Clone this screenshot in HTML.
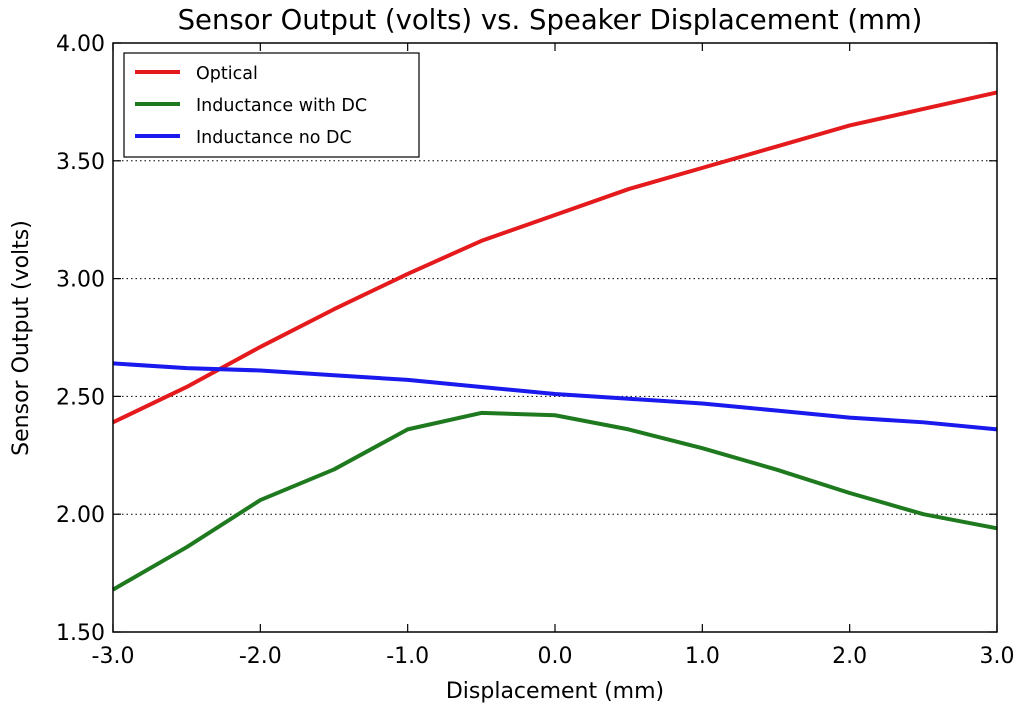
<!DOCTYPE html>
<html><head><meta charset="utf-8"><style>
body{margin:0;background:#fff;}
svg text{font-family:"DejaVu Sans","Liberation Sans",sans-serif;fill:#000;}
</style></head><body>
<svg width="1024" height="712" xmlns="http://www.w3.org/2000/svg">
<g id="grid"></g>
<g id="series"></g>
<rect x="113" y="43" width="884" height="589" fill="none" stroke="#000" stroke-width="1.5"/>
<g id="axes"></g>
<text x="550" y="29" font-size="27.5" text-anchor="middle">Sensor Output (volts) vs. Speaker Displacement (mm)</text>
<text x="555" y="698" font-size="22" text-anchor="middle">Displacement (mm)</text>
<text x="0" y="0" font-size="22" text-anchor="middle" transform="translate(28,338) rotate(-90)">Sensor Output (volts)</text>
<g>
<rect x="124" y="53" width="295" height="104" fill="#fff" stroke="#000" stroke-width="1.2"/>
<line x1="135" y1="72" x2="180" y2="72" stroke="#e41a1c" stroke-width="4"/>
<text x="196" y="79" font-size="17.5">Optical</text>
<line x1="135" y1="104" x2="180" y2="104" stroke="#1f7a1f" stroke-width="4"/>
<text x="196" y="111" font-size="17.5">Inductance with DC</text>
<line x1="135" y1="136" x2="180" y2="136" stroke="#1a1aee" stroke-width="4"/>
<text x="196" y="143" font-size="17.5">Inductance no DC</text>
</g>
</svg>
<script>
const xs=[-3,-2.5,-2,-1.5,-1,-0.5,0,0.5,1,1.5,2,2.5,3];
const optical=[2.39,2.54,2.71,2.87,3.02,3.16,3.27,3.38,3.47,3.56,3.65,3.72,3.79];
const inductanceDC=[1.68,1.86,2.06,2.19,2.36,2.43,2.42,2.36,2.28,2.19,2.09,2.00,1.94];
const inductanceNoDC=[2.64,2.62,2.61,2.59,2.57,2.54,2.51,2.49,2.47,2.44,2.41,2.39,2.36];
const xTicks=[-3,-2,-1,0,1,2,3];
const xTickLabels=["-3.0","-2.0","-1.0","0.0","1.0","2.0","3.0"];
const yTicks=[1.5,2,2.5,3,3.5,4];
const yTickLabels=["1.50","2.00","2.50","3.00","3.50","4.00"];
const X=v=>113+(v+3)/6*884, Y=v=>632-(v-1.5)/2.5*589;
const NS="http://www.w3.org/2000/svg";
function mk(t,a,p){const e=document.createElementNS(NS,t);for(const k in a)e.setAttribute(k,a[k]);p.appendChild(e);return e;}
const grid=document.getElementById('grid'),axes=document.getElementById('axes'),ser=document.getElementById('series');
yTicks.forEach((v,i)=>{
 if(v>1.5&&v<4){const g=mk('line',{x1:113,x2:997,y1:Y(v),y2:Y(v),stroke:'#000','stroke-width':1,'stroke-dasharray':'1.5,3'},grid);
 }
 const t=mk('line',{x1:113,x2:121,y1:Y(v),y2:Y(v),stroke:'#000','stroke-width':1.2},axes);
 
 const t2=mk('line',{x1:989,x2:997,y1:Y(v),y2:Y(v),stroke:'#000','stroke-width':1.2},axes);
 
 const l=mk('text',{x:105,y:Y(v)+8,'font-size':22,'text-anchor':'end'},axes);l.textContent=yTickLabels[i];
 
});
xTicks.forEach((v,i)=>{
 const t=mk('line',{x1:X(v),x2:X(v),y1:624,y2:632,stroke:'#000','stroke-width':1.2},axes);
 
 const t2=mk('line',{x1:X(v),x2:X(v),y1:43,y2:51,stroke:'#000','stroke-width':1.2},axes);
 
 const l=mk('text',{x:X(v),y:663,'font-size':22,'text-anchor':'middle'},axes);l.textContent=xTickLabels[i];
 
});
[[optical,'#e41a1c','optical-line'],[inductanceDC,'#1f7a1f','inductance-dc-line'],[inductanceNoDC,'#1a1aee','inductance-no-dc-line']].forEach(([d,c,n])=>{
 const p=mk('polyline',{points:d.map((v,i)=>X(xs[i])+','+Y(v)).join(' '),fill:'none',stroke:c,'stroke-width':4,'stroke-linejoin':'round'},ser);
 
});
</script>
</body></html>
